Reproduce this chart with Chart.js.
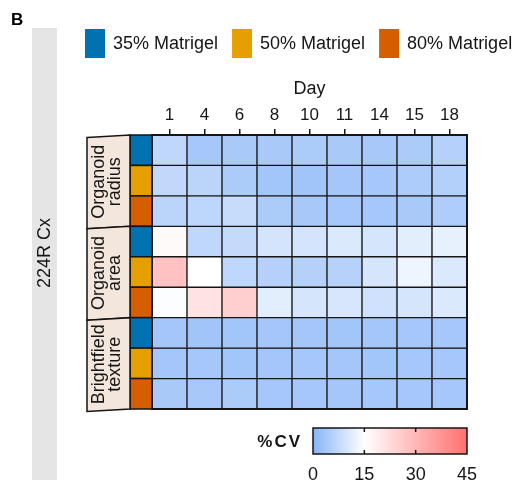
<!DOCTYPE html>
<html>
<head>
<meta charset="utf-8">
<script src="https://cdn.jsdelivr.net/npm/chart.js@4"></script>
<style>
  html, body { margin: 0; padding: 0; background: #fff; }
  #wrap { width: 521px; height: 486px; }
</style>
</head>
<body>
<div id="wrap"><canvas id="c" width="521" height="486"></canvas></div>
<script>
// Days of culture (columns)
const days = ['1', '4', '6', '8', '10', '11', '14', '15', '18'];
// Measured features (row groups), two text lines each
const measures = [['Organoid', 'radius'], ['Organoid', 'area'], ['Brightfield', 'texture']];
// Matrigel conditions within each group
const matrigel = ['35% Matrigel', '50% Matrigel', '80% Matrigel'];
const matrigelColors = ['#0072b2', '#e69f00', '#d55e00'];

// %CV per day
const radius35 = [7.0, 3.8, 4.2, 4.2, 4.5, 4.3, 4.0, 4.5, 5.8];
const radius50 = [7.2, 6.5, 4.5, 3.5, 3.3, 3.6, 3.8, 4.8, 5.5];
const radius80 = [6.5, 6.8, 8.0, 4.5, 4.0, 3.7, 3.7, 4.2, 5.0];
const area35 = [16.0, 7.0, 7.5, 9.5, 9.5, 10.5, 9.8, 11.5, 12.0];
const area50 = [28.0, 15.0, 7.0, 5.8, 5.8, 6.0, 9.8, 13.0, 10.5];
const area80 = [14.5, 21.0, 25.0, 11.5, 9.8, 10.0, 9.0, 9.8, 10.5];
const texture35 = [3.6, 3.4, 3.5, 3.6, 3.6, 3.5, 3.6, 3.7, 3.8];
const texture50 = [3.6, 3.7, 3.5, 3.6, 3.7, 3.6, 3.5, 3.7, 3.8];
const texture80 = [4.2, 4.0, 4.5, 3.8, 3.7, 3.6, 3.7, 3.8, 3.7];

const rows = [radius35, radius50, radius80, area35, area50, area80, texture35, texture50, texture80];

// Colour scale ticks and sample label
const cvTicks = [0, 15, 30, 45];
const sampleLabel = '224R Cx';
const panelLetter = 'B';

const FONT = "'Liberation Sans', Arial, Helvetica, sans-serif";
const INK = '#151515';

// Diverging scale: blue at 0, white at 15, red at 45
const cmapStops = [[0, [135, 180, 247]], [15, [255, 255, 255]], [45, [255, 112, 112]]];
function cvColor(v) {
  const lo = cmapStops[0][0], hi = cmapStops[cmapStops.length - 1][0];
  v = Math.max(lo, Math.min(hi, v));
  for (let i = 0; i < cmapStops.length - 1; i++) {
    const [a, ca] = cmapStops[i], [b, cb] = cmapStops[i + 1];
    if (v <= b) {
      const t = (v - a) / (b - a);
      const c = ca.map((x, k) => Math.round(x + (cb[k] - x) * t));
      return `rgb(${c[0]},${c[1]},${c[2]})`;
    }
  }
  return 'rgb(255,112,112)';
}

// One floating-bar dataset per heatmap row
const datasets = rows.map((vals, r) => ({
  label: measures[Math.floor(r / 3)].join(' ') + ' ' + matrigel[r % 3],
  data: vals.map(() => [r, r + 1]),
  backgroundColor: vals.map(cvColor),
  borderColor: INK,
  borderWidth: 1,
  borderSkipped: false,
  grouped: false,
  barPercentage: 1,
  categoryPercentage: 1
}));

const decor = {
  id: 'decor',
  beforeDraw(chart) {
    const ctx = chart.ctx;
    ctx.save();
    // panel letter
    ctx.fillStyle = '#000';
    ctx.font = `bold 17px ${FONT}`;
    ctx.textAlign = 'left';
    ctx.textBaseline = 'alphabetic';
    ctx.fillText(panelLetter, 11, 25);

    // sample strip
    ctx.fillStyle = '#e5e5e5';
    ctx.fillRect(32, 28, 25, 452);
    ctx.save();
    ctx.translate(45, 253);
    ctx.rotate(-Math.PI / 2);
    ctx.fillStyle = INK;
    ctx.font = `18px ${FONT}`;
    ctx.textAlign = 'center';
    ctx.textBaseline = 'middle';
    ctx.fillText(sampleLabel, 0, 0);
    ctx.restore();

    // legend
    ctx.font = `18px ${FONT}`;
    ctx.textBaseline = 'middle';
    ctx.textAlign = 'left';
    let x = 85;
    matrigel.forEach((name, i) => {
      ctx.fillStyle = matrigelColors[i];
      ctx.fillRect(x, 29, 20, 29);
      ctx.fillStyle = INK;
      ctx.fillText(name, x + 28, 44);
      x += 28 + ctx.measureText(name).width + 14;
    });
    ctx.restore();
  },
  afterDatasetsDraw(chart) {
    const ctx = chart.ctx;
    const area = chart.chartArea;
    const yS = chart.scales.y;
    ctx.save();

    // outer frame of the grid
    ctx.strokeStyle = INK;
    ctx.lineWidth = 2;
    ctx.strokeRect(area.left, area.top, area.right - area.left, area.bottom - area.top);

    // matrigel colour column
    const colR = area.left, colL = area.left - 22;
    rows.forEach((_, r) => {
      const t = yS.getPixelForValue(r), b = yS.getPixelForValue(r + 1);
      ctx.fillStyle = matrigelColors[r % 3];
      ctx.fillRect(colL, t, colR - colL, b - t);
      ctx.strokeStyle = INK;
      ctx.lineWidth = 1.5;
      ctx.strokeRect(colL, t, colR - colL, b - t);
    });

    // measure group tabs
    const tabL = colL - 43, skew = 2.5;
    measures.forEach((lines, g) => {
      const t = yS.getPixelForValue(g * 3), b = yS.getPixelForValue(g * 3 + 3);
      ctx.beginPath();
      ctx.moveTo(tabL, t + skew);
      ctx.lineTo(colL, t);
      ctx.lineTo(colL, b);
      ctx.lineTo(tabL, b + skew);
      ctx.closePath();
      ctx.fillStyle = '#f3e7dd';
      ctx.fill();
      ctx.strokeStyle = INK;
      ctx.lineWidth = 1.5;
      ctx.stroke();
      ctx.save();
      ctx.translate(tabL + 20, (t + b) / 2 + 1);
      ctx.rotate(-Math.PI / 2);
      ctx.fillStyle = INK;
      ctx.font = `18px ${FONT}`;
      ctx.textAlign = 'center';
      ctx.textBaseline = 'middle';
      ctx.fillText(lines[0], 0, -8);
      ctx.fillText(lines[1], 0, 8);
      ctx.restore();
    });

    // colour bar
    const cbL = 313, cbR = 467, cbT = 428, cbB = 454;
    const lo = cvTicks[0], hi = cvTicks[cvTicks.length - 1];
    const grad = ctx.createLinearGradient(cbL, 0, cbR, 0);
    cmapStops.forEach(([v]) => grad.addColorStop((v - lo) / (hi - lo), cvColor(v)));
    ctx.fillStyle = grad;
    ctx.fillRect(cbL, cbT, cbR - cbL, cbB - cbT);
    ctx.strokeStyle = INK;
    ctx.lineWidth = 1.5;
    ctx.strokeRect(cbL, cbT, cbR - cbL, cbB - cbT);
    ctx.fillStyle = INK;
    ctx.font = `18px ${FONT}`;
    ctx.textAlign = 'center';
    ctx.textBaseline = 'middle';
    cvTicks.forEach(v => {
      const px = cbL + (v - lo) / (hi - lo) * (cbR - cbL);
      if (v !== lo && v !== hi) {
        ctx.beginPath();
        ctx.moveTo(px, cbT); ctx.lineTo(px, cbT + 4);
        ctx.moveTo(px, cbB); ctx.lineTo(px, cbB - 4);
        ctx.stroke();
      }
      ctx.fillText(String(v), px, 475);
    });
    ctx.font = `bold 17px ${FONT}`;
    ctx.textAlign = 'right';
    ctx.letterSpacing = '2px';
    ctx.fillText('%CV', 302, 442);
    ctx.restore();
  }
};

new Chart(document.getElementById('c'), {
  type: 'bar',
  data: { labels: days, datasets },
  options: {
    responsive: false,
    devicePixelRatio: 1,
    animation: false,
    layout: { padding: { left: 152, right: 54, top: 78, bottom: 77 } },
    plugins: { legend: { display: false }, tooltip: { enabled: false } },
    scales: {
      x: {
        type: 'category',
        position: 'top',
        offset: true,
        grid: { display: true, offset: false, drawOnChartArea: false, drawTicks: true, tickLength: 6, color: INK, lineWidth: 1.5 },
        border: { display: false },
        ticks: { color: INK, font: { size: 17, family: FONT }, padding: 3, maxRotation: 0, autoSkip: false },
        title: { display: true, text: 'Day', color: INK, font: { size: 18, family: FONT }, padding: 0 },
        afterFit: s => { s.height = 57; }
      },
      y: {
        type: 'linear',
        min: 0,
        max: rows.length,
        reverse: true,
        display: false
      }
    }
  },
  plugins: [decor]
});
</script>
</body>
</html>
